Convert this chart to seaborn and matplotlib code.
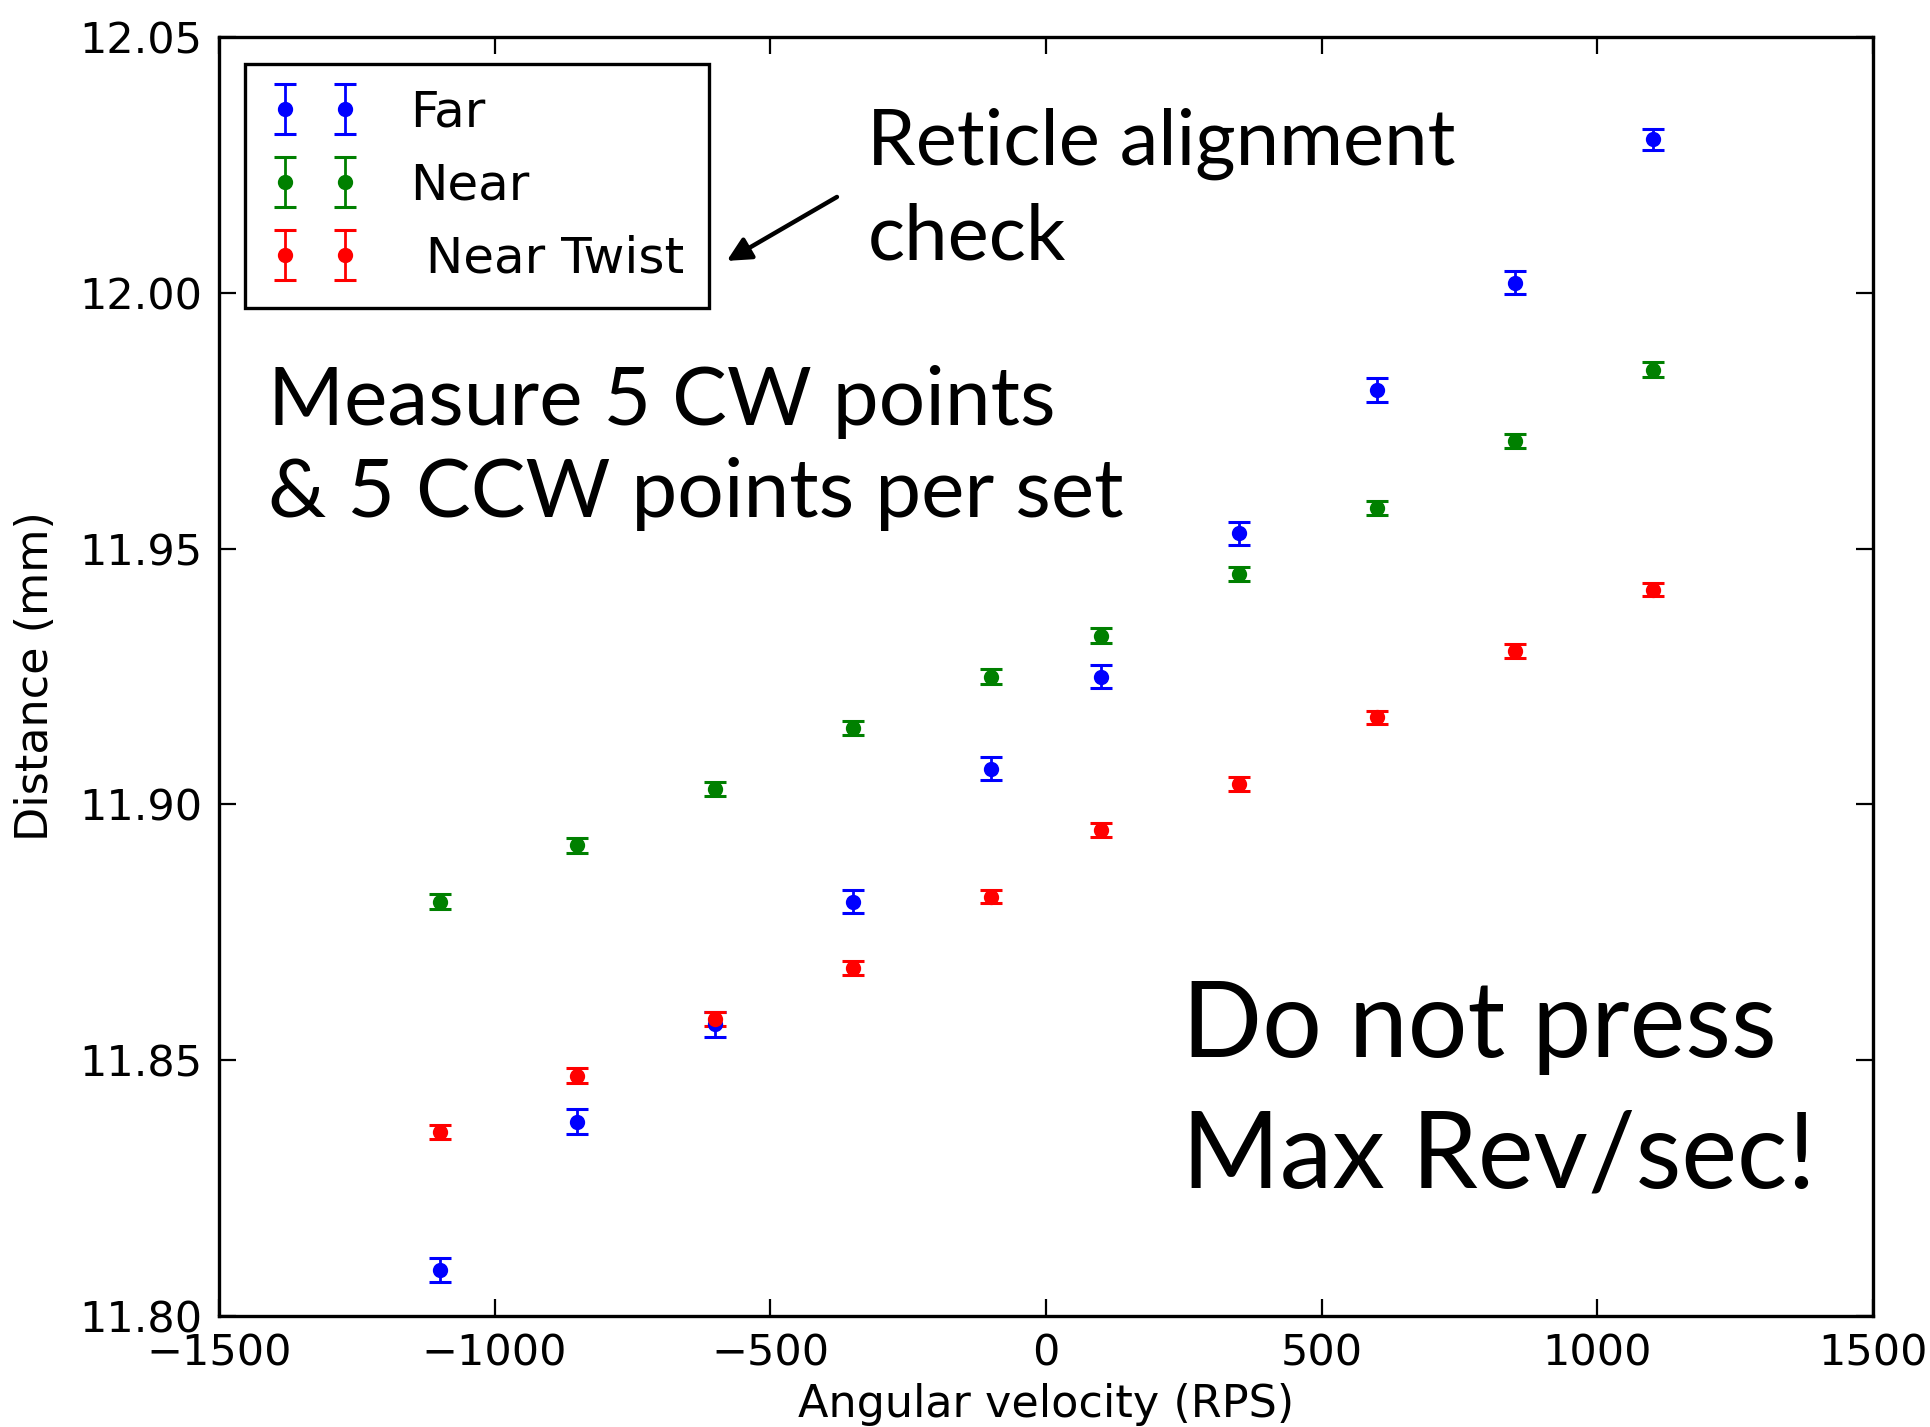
import matplotlib
matplotlib.use("Agg")
import matplotlib.pyplot as plt
import numpy as np
import seaborn as sns

# angular velocity set points (RPS)
rps = [-1100, -850, -600, -350, -100, 100, 350, 600, 850, 1100]

# measured distance (mm) per series
far = [11.809, 11.838, 11.857, 11.881, 11.907, 11.925, 11.953, 11.981, 12.002, 12.030]
near = [11.881, 11.892, 11.903, 11.915, 11.925, 11.933, 11.945, 11.958, 11.971, 11.985]
near_twist = [11.836, 11.847, 11.858, 11.868, 11.882, 11.895, 11.904, 11.917, 11.930, 11.942]

# error bar half widths (mm)
far_err = [0.0023, 0.0025, 0.0025, 0.0023, 0.0023, 0.0023, 0.0023, 0.0023, 0.0023, 0.0020]
near_err = [0.0014, 0.0014, 0.0014, 0.0014, 0.0014, 0.0014, 0.0014, 0.0014, 0.0014, 0.0014]
twist_err = [0.0014, 0.0014, 0.0014, 0.0013, 0.0013, 0.0013, 0.0013, 0.0013, 0.0013, 0.0013]

series = [
    ("Far", far, far_err, "#0000ff"),
    ("Near", near, near_err, "#008000"),
    (" Near Twist", near_twist, twist_err, "#ff0000"),
]

sns.set_style("ticks")
plt.rcParams["font.family"] = ["DejaVu Sans"]
plt.rcParams["xtick.direction"] = "in"
plt.rcParams["ytick.direction"] = "in"
# classic look: pure black text and ticks
for key in ["text.color", "axes.labelcolor", "xtick.color", "ytick.color"]:
    plt.rcParams[key] = "black"

fig = plt.figure(figsize=(9.655, 7.135), dpi=200)
ax = fig.add_axes([0.1134, 0.0778, 0.8566, 0.8962])

for label, vals, errs, color in series:
    ax.errorbar(
        rps, vals, yerr=errs, fmt="o", color=color, ecolor=color,
        markersize=4.5, elinewidth=1.0, capsize=4, capthick=1.1, label=label,
    )

ax.set_xlim(-1500, 1500)
ax.set_ylim(11.80, 12.05)
ax.set_xticks(np.arange(-1500, 1501, 500))
ax.set_yticks(np.arange(11.80, 12.051, 0.05))
ax.yaxis.set_major_formatter(matplotlib.ticker.FormatStrFormatter("%.2f"))
ax.tick_params(axis="both", which="major", labelsize=15.5, length=6, width=0.8,
               pad=6, top=True, right=True, color="black")
for spine in ax.spines.values():
    spine.set_visible(True)
    spine.set_linewidth(1.2)
    spine.set_color("black")

ax.set_xlabel("Angular velocity (RPS)", fontsize=16, labelpad=3)
ax.set_ylabel("Distance (mm)", fontsize=16, labelpad=8)

leg = ax.legend(
    loc="upper left", bbox_to_anchor=(0.0157, 0.979), borderaxespad=0,
    numpoints=2, fontsize=18, fancybox=False, framealpha=1, edgecolor="black",
    handlelength=1.8, handletextpad=1.0, labelspacing=0.5, borderpad=0.5,
)
leg.get_frame().set_linewidth(1.2)

note_font = ["Lato", "DejaVu Sans"]
ax.text(0.392, 0.9007, "Reticle alignment", transform=ax.transAxes,
        fontsize=28, family=note_font, va="baseline")
ax.text(0.392, 0.8264, "check", transform=ax.transAxes,
        fontsize=28, family=note_font, va="baseline")
ax.text(0.0296, 0.6966, "Measure 5 CW points", transform=ax.transAxes,
        fontsize=29.5, family=note_font, va="baseline")
ax.text(0.0296, 0.6247, "& 5 CCW points per set", transform=ax.transAxes,
        fontsize=29.5, family=note_font, va="baseline")
ax.text(0.5822, 0.2025, "Do not press", transform=ax.transAxes,
        fontsize=38, family=note_font, va="baseline")
ax.text(0.5822, 0.1001, "Max Rev/sec!", transform=ax.transAxes,
        fontsize=38, family=note_font, va="baseline")

ax.annotate("", xy=(0.307, 0.825), xytext=(0.3736, 0.875),
            xycoords="axes fraction", textcoords="axes fraction",
            arrowprops=dict(arrowstyle="-|>", color="black", lw=1.6,
                            mutation_scale=18, shrinkA=0, shrinkB=0))

fig.savefig("out.png", dpi=200)
